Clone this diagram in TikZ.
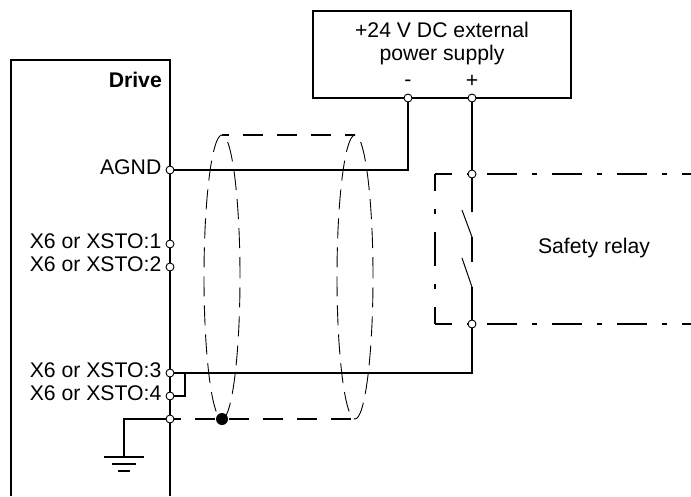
\documentclass[tikz,border=0pt]{standalone}
\usepackage{fontspec}
\setmainfont{Liberation Sans}
\usetikzlibrary{positioning}
\newcommand{\diagFont}{\fontsize{21.2}{22.5}\selectfont}

\begin{document}
\begin{tikzpicture}[x=1pt,y=-1pt,
    every node/.style={font=\diagFont},
    wire/.style={line width=1.6pt},
    blade/.style={line width=1pt},
    term/.style={circle,draw,fill=white,line width=0.9pt,inner sep=0pt,minimum size=8pt},
    shdot/.style={circle,fill=black,inner sep=0pt,minimum size=12pt},
    lbl/.style={inner sep=0pt,yshift=2.5pt},
    shield/.style={line width=0.9pt,dash pattern=on 20pt off 9pt},
    shieldwire/.style={line width=1.6pt,dash pattern=on 20pt off 14pt,dash phase=13pt},
    relayline/.style={line width=1.6pt,dash pattern=on 30pt off 15pt on 5pt off 15pt,dash phase=13pt}]
\useasboundingbox (0,0) rectangle (691,496);
% Drive box (open at the bottom)
\coordinate       (drvtl)      at (11,60);
\coordinate       (drvtr)      at (170,60);
\draw[wire] (11,496) -- (drvtl) -- (drvtr) -- (170,496);
\node[anchor=base east,inner sep=0pt,font=\diagFont\bfseries] (drvlbl) at (162,87) {Drive};
% Cable shield
\coordinate       (lcab)       at (222,277);
\coordinate       (rcab)       at (355,277);
\coordinate       (lcabtop)    at (222,135);
\coordinate       (rcabtop)    at (355,135);
\coordinate       (rcabbot)    at (355,419);
\draw[shield] (lcab) ellipse [x radius=18pt, y radius=142pt];
\draw[shield] (rcab) ellipse [x radius=18pt, y radius=142pt];
\draw[shieldwire] (lcabtop) -- (rcabtop);
% Safety relay outline
\coordinate       (rlytl)      at (435,174);
\coordinate       (rlybl)      at (435,324);
\draw[relayline] (rlytl) -- (691,174);
\draw[relayline] (rlybl) -- (691,324);
\draw[relayline,dash pattern=on 34pt off 18pt on 5pt off 18pt,dash phase=17pt] (rlytl) -- (rlybl);
\node (rlylbl) at (594,248) {Safety relay};
% Power supply
\node[draw,wire,minimum width=258pt,minimum height=87pt,inner sep=0pt] (psu) at (442,54.5) {};
\node[anchor=north,align=center,inner sep=0pt] (psulbl) at (442,22) {+24 V DC external\\power supply};
\node[anchor=base,inner sep=0pt] (minuslbl) at (408,86) {-};
\node[anchor=base,inner sep=0pt] (pluslbl) at (472,87) {+};
% Terminals
\node[term] (agnd)  at (170,170) {};
\node[term] (sto1)  at (170,244) {};
\node[term] (sto2)  at (170,267) {};
\node[term] (sto3)  at (170,373) {};
\node[term] (sto4)  at (170,396) {};
\node[term] (pe)    at (170,419) {};
\node[term] (minus) at (408,98) {};
\node[term] (plus)  at (472,98) {};
\node[term] (rtop)  at (472,174) {};
\node[term] (rbot)  at (472,324) {};
% Terminal labels
\node[lbl,left=4pt of agnd] (agndlbl) {AGND};
\node[lbl,left=4pt of sto1] (sto1lbl) {X6 or XSTO:1};
\node[lbl,left=4pt of sto2] (sto2lbl) {X6 or XSTO:2};
\node[lbl,left=4pt of sto3] (sto3lbl) {X6 or XSTO:3};
\node[lbl,left=4pt of sto4] (sto4lbl) {X6 or XSTO:4};
% Shield grounding
\draw[shieldwire] (pe) -- (rcabbot);
\node[shdot] (shgnd) at (222,419) {};
% Wiring
\draw[wire] (agnd) -| (minus);
\draw[wire] (sto3) -| (rbot);
\coordinate       (jct)        at (185,373);
\draw[wire] (sto4) -| (jct);
% Relay contacts
\coordinate       (sw1a)       at (472,212);
\coordinate       (sw1b)       at (472,237);
\coordinate       (sw2a)       at (472,262);
\coordinate       (sw2b)       at (472,287);
\draw[wire] (plus) -- (rtop);
\draw[wire] (rtop) -- (sw1a);
\draw[blade] (sw1b) -- ++(-10,-27);
\draw[wire] (sw1b) -- (sw2a);
\draw[blade] (sw2b) -- ++(-10,-29);
\draw[wire] (sw2b) -- (rbot);
% Earth
\coordinate       (earth)      at (124,457);
\draw[wire] (pe) -| (earth);
\draw[wire] (earth) ++(-20,0) -- ++(40,0);
\draw[wire] (earth) ++(-12,7) -- ++(24,0);
\draw[wire] (earth) ++(-6,14) -- ++(12,0);
\end{tikzpicture}
\end{document}
